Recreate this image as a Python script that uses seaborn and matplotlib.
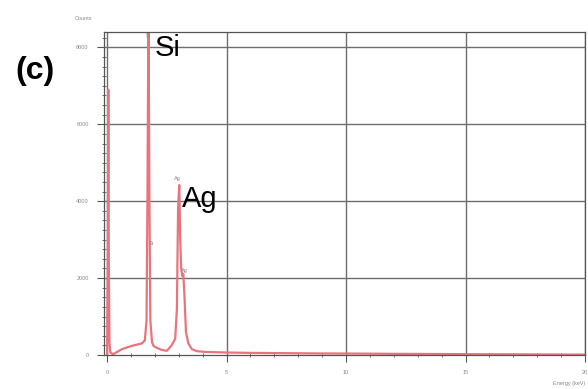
import numpy as np
import pandas as pd
import matplotlib
matplotlib.use("Agg")
import matplotlib.pyplot as plt
import seaborn as sns

energy = [0.00, 0.03, 0.05, 0.07, 0.10, 0.14, 0.25, 0.45, 0.65, 0.85, 1.05, 1.25,
          1.45, 1.58, 1.65, 1.69, 1.73, 1.77, 1.81, 1.88, 1.95, 2.10, 2.30, 2.50,
          2.70, 2.85, 2.92, 2.97, 3.02, 3.06, 3.10, 3.15, 3.19, 3.24, 3.30, 3.40,
          3.55, 3.75, 4.10, 5.0, 6.0, 7.0, 8.0, 9.0, 10.0, 11.0, 12.0, 13.0, 14.0,
          15.0, 16.0, 17.0, 18.0, 19.0, 20.0]
counts = [0, 2500, 6900, 2500, 300, 60, 20, 90, 160, 200, 240, 270,
          300, 380, 900, 4200, 9200, 4200, 900, 330, 230, 180, 130, 110,
          250, 420, 1200, 3800, 4420, 3000, 2250, 2050, 2100, 1500, 600, 300,
          150, 100, 80, 65, 55, 50, 45, 40, 38, 35, 30, 28, 25,
          22, 20, 18, 15, 12, 10]

x_ticks = [0, 5, 10, 15, 20]
x_ticklabels = ["0", "5", "10", "15", "20"]
y_ticks = [0, 2000, 4000, 6000, 8000]
y_ticklabels = ["0", "2000", "4000", "6000", "8000"]

df = pd.DataFrame({"Energy (keV)": energy, "Counts": counts})

sns.set_theme(style="white")
plt.rcParams["font.family"] = ["Liberation Sans", "DejaVu Sans"]

fig = plt.figure(figsize=(5.88, 3.89), dpi=100)
ax = fig.add_axes([104 / 588, 1 - 355 / 389, (585 - 104) / 588, (355 - 32) / 389])

sns.lineplot(data=df, x="Energy (keV)", y="Counts", ax=ax, color="#e8747d",
             linewidth=1.6, clip_on=True)

ax.set_xlim(-0.13, 20)
ax.set_ylim(0, 8400)
ax.set_xticks(x_ticks)
ax.set_xticklabels(x_ticklabels)
ax.set_yticks(y_ticks)
ax.set_yticklabels(y_ticklabels)
ax.set_xticks(np.arange(0, 20.5, 1), minor=True)
ax.set_yticks(np.arange(0, 8401, 250), minor=True)
ax.set_xlabel("")
ax.set_ylabel("")

for xv in x_ticks:
    ax.axvline(xv, color="#6e6e6e", lw=1.0, zorder=0)
for yv in y_ticks[1:]:
    ax.axhline(yv, color="#6e6e6e", lw=1.0, zorder=0)

for s in ["top", "left", "bottom", "right"]:
    ax.spines[s].set_visible(True)
    ax.spines[s].set_color("#555555")
    ax.spines[s].set_linewidth(0.9)

ax.tick_params(axis="both", which="major", direction="out", length=5, width=0.8,
               colors="#555555", labelsize=4, labelcolor="#888888", pad=6)
ax.tick_params(axis="both", which="minor", direction="inout", length=3, width=0.6,
               colors="#555555")
ax.tick_params(bottom=True, left=True, which="both")

fig.text(75 / 588, 1 - 18 / 389, "Counts", fontsize=4, color="#888888",
         ha="left", va="center")
fig.text(585 / 588, 1 - 383 / 389, "Energy (keV)", fontsize=4, color="#888888",
         ha="right", va="center")

# small peak tags
ax.text(1.73, 8300, "Si", fontsize=4, color="#888888", ha="center", va="center")
ax.text(1.85, 2900, "Si", fontsize=4, color="#888888", ha="center", va="center")
ax.text(2.95, 4600, "Ag", fontsize=4, color="#888888", ha="center", va="center")
ax.text(3.25, 2200, "Ag", fontsize=4, color="#888888", ha="center", va="center")

fig.text(35 / 588, 1 - 71 / 389, "(c)", fontsize=23, fontweight="bold",
         color="black", ha="center", va="center")
fig.text(155 / 588, 1 - 48 / 389, "Si", fontsize=21, color="black",
         ha="left", va="center")
fig.text(182 / 588, 1 - 199 / 389, "Ag", fontsize=21, color="black",
         ha="left", va="center")

fig.savefig("out.png", dpi=100)
